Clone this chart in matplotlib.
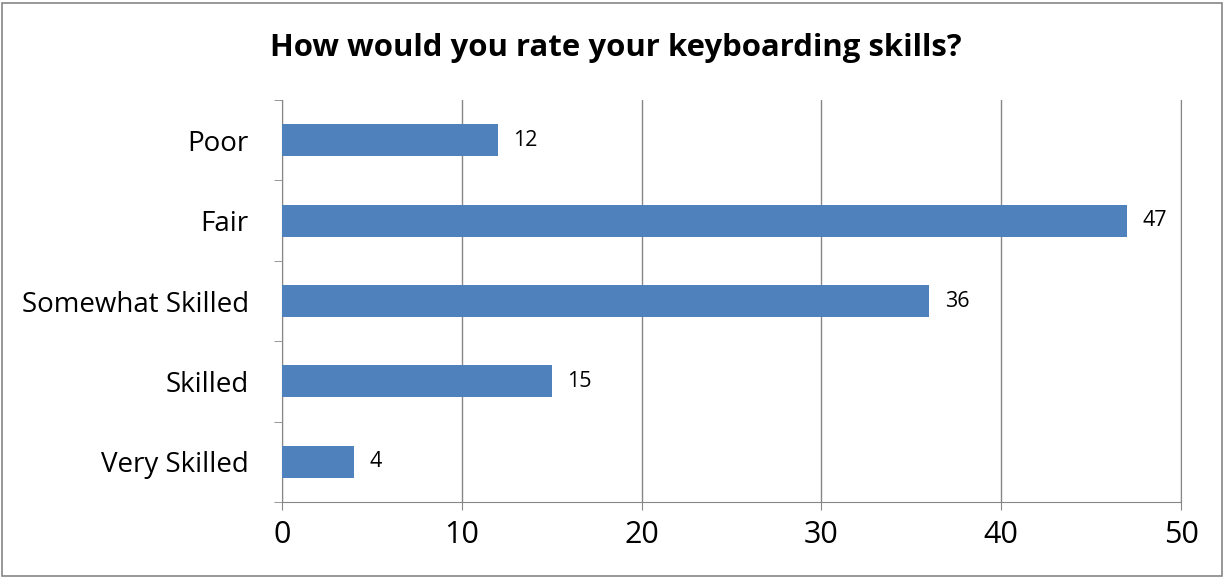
import matplotlib.pyplot as plt
import numpy as np
from matplotlib.patches import Rectangle

categories = ['Poor', 'Fair', 'Somewhat Skilled', 'Skilled', 'Very Skilled']
counts = [12, 47, 36, 15, 4]
title = 'How would you rate your keyboarding skills?'

plt.rcParams['font.family'] = ['Open Sans', 'DejaVu Sans']

fig = plt.figure(figsize=(12.25, 5.79), dpi=100)
ax = fig.add_axes([282/1225, 1 - 502/579, (1181 - 282)/1225, (502 - 100)/579])

# outer chart border
fig.patches.append(Rectangle((2/1225, 3/579), 1220/1225, 573/579, transform=fig.transFigure,
                             fill=False, edgecolor='#868686', linewidth=1.2))

y = np.arange(len(categories))
ax.barh(y, counts, height=0.4, color='#4F81BD', zorder=3)
for yi, v in zip(y, counts):
    ax.text(v + 0.85, yi, str(v), va='center', ha='left', fontsize=15.5)

ax.set_xlim(0, 50)
ax.set_ylim(len(categories) - 0.5, -0.5)
ax.set_xticks([0, 10, 20, 30, 40, 50])
ax.tick_params(axis='x', labelsize=22, length=6, color='#868686', pad=7)
ax.set_yticks(y, categories)
ax.set_yticks(np.arange(-0.5, len(categories)), minor=True)
ax.tick_params(axis='y', which='major', length=0, labelsize=20, pad=24)
ax.tick_params(axis='y', which='minor', length=6, color='#868686')
ax.grid(axis='x', color='#868686', linewidth=1, zorder=0)

ax.spines['top'].set_visible(False)
for s in ['left', 'bottom', 'right']:
    ax.spines[s].set_color('#868686')

fig.text(616/1225, 1 - 48/579, title, ha='center', va='center', fontsize=22.4, fontweight='bold')

fig.savefig('out.png')
